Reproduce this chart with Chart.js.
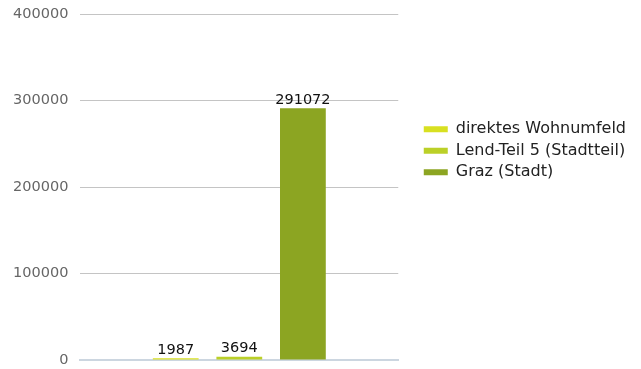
<!DOCTYPE html>
<html>
<head>
<meta charset="utf-8">
<script src="https://cdn.jsdelivr.net/npm/chart.js@4.4.1/dist/chart.umd.min.js"></script>
<style>
  html, body { margin: 0; padding: 0; background: #fff; }
  #wrap { width: 641px; height: 369px; }
</style>
</head>
<body>
<div id="wrap"><canvas id="chartEinwohner"></canvas></div>
<script>
const categories = [""];
const seriesNames = ["direktes Wohnumfeld", "Lend-Teil 5 (Stadtteil)", "Graz (Stadt)"];
const seriesValues = [1987, 3694, 291072];
const seriesColors = ["#d8e021", "#bbd028", "#8ca522"];
const yTicks = [0, 100000, 200000, 300000, 400000];

Chart.defaults.font.family = "'DejaVu Sans', sans-serif";
Chart.defaults.font.size = 14;

// Wert über jeden Balken schreiben
const valueLabels = {
  id: "valueLabels",
  afterDatasetsDraw(chart) {
    const ctx = chart.ctx;
    ctx.save();
    ctx.font = "14.5px 'DejaVu Sans', sans-serif";
    ctx.fillStyle = "#111";
    ctx.textAlign = "center";
    ctx.textBaseline = "bottom";
    chart.data.datasets.forEach((ds, i) => {
      chart.getDatasetMeta(i).data.forEach((bar, j) => {
        ctx.fillText(String(ds.data[j]), bar.x, bar.y - 1);
      });
    });
    ctx.restore();
  }
};

const datasets = seriesNames.map((name, i) => ({
  label: name,
  data: [seriesValues[i]],
  backgroundColor: seriesColors[i],
  categoryPercentage: 0.6,
  barPercentage: 0.72
}));

new Chart(document.getElementById("chartEinwohner"), {
  type: "bar",
  data: { labels: categories, datasets },
  options: {
    responsive: true,
    maintainAspectRatio: false,
    animation: false,
    layout: { padding: { left: 13, right: 5, top: 14, bottom: 9 } },
    plugins: {
      tooltip: { enabled: false },
      legend: {
        position: "right",
        align: "start",
        maxWidth: 280,
        title: { display: true, text: "", padding: { top: 85, bottom: 0 } },
        labels: { boxWidth: 24, boxHeight: 6, padding: 5.5, color: "#222", font: { size: 16 } }
      }
    },
    scales: {
      x: {
        ticks: { display: false },
        grid: { display: false },
        border: { display: true, color: "#ccd6e0", width: 2 },
        afterFit: axis => { axis.height = 0; }
      },
      y: {
        min: 0,
        max: 400000,
        afterBuildTicks: axis => { axis.ticks = yTicks.map(v => ({ value: v })); },
        ticks: { color: "#666", padding: 0, font: { size: 14.5 }, callback: v => String(v) },
        grid: { color: "#c4c4c4", drawTicks: true, tickLength: 12, tickColor: "rgba(0,0,0,0)" },
        border: { display: false }
      },
      spacer: {
        position: "right",
        display: true,
        ticks: { display: false },
        grid: { display: false },
        border: { display: false },
        afterFit: axis => { axis.width = 20; }
      }
    }
  },
  plugins: [valueLabels]
});
</script>
</body>
</html>
